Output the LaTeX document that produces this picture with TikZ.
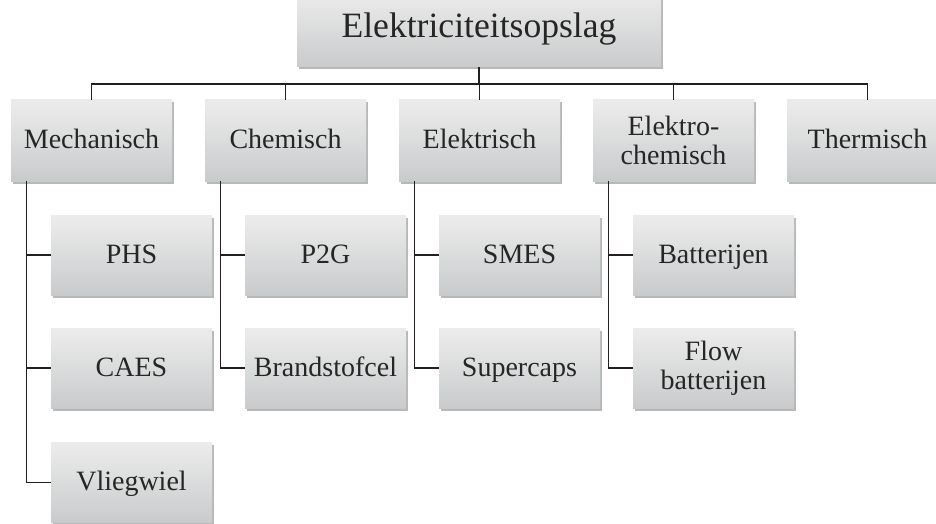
\documentclass[tikz,border=0pt]{standalone}
\usepackage{fontspec}
\setmainfont{Liberation Serif}
\usetikzlibrary{shadows}
\definecolor{txt}{RGB}{38,38,38}
\definecolor{ln}{RGB}{35,31,32}
\definecolor{sbA}{RGB}{180,184,186}
\definecolor{sbB}{RGB}{204,206,207}
\definecolor{sbC}{RGB}{233,233,233}
\definecolor{sbD}{RGB}{246,246,246}
\pgfdeclareverticalshading{boxshade}{100bp}{color(0bp)=(sbA); color(30bp)=(sbB); color(70bp)=(sbC); color(100bp)=(sbD)}
\begin{document}
\begin{tikzpicture}[x=1pt,y=-1pt,
  box/.style={shading=boxshade,
    drop shadow={shadow xshift=1.5pt,shadow yshift=-2.5pt,opacity=0.28,fill=black},
    minimum width=161pt, minimum height=80pt, inner sep=0pt,
    text=txt, font=\fontsize{28}{29}\selectfont, align=center},
  one/.style={text height=20pt, text depth=4pt},
  conn/.style={draw=ln, line width=1.2pt}]
\path[use as bounding box] (0,0) rectangle (936,524);
\clip (0,0) rectangle (936,524);
% top
\node[box, minimum width=364pt, minimum height=76pt, font=\fontsize{35.6}{36}\selectfont,
  text height=25pt, text depth=8pt] (top) at (479,29) {Elektriciteitsopslag};
% level 1
\node[box, one, minimum height=81pt] (mech) at (91.5,140.5) {Mechanisch};
\node[box, one, minimum height=81pt] (chem) at (285.5,140.5) {Chemisch};
\node[box, one, minimum height=81pt] (elek) at (479.5,140.5) {Elektrisch};
\node[box, minimum height=81pt] (elch) at (673.5,140.5) {Elektro-\\chemisch};
\node[box, one, minimum height=81pt] (therm) at (867.5,140.5) {Thermisch};
% children
\node[box, one] (phs) at (131.5,255) {PHS};
\node[box, one] (caes) at (131.5,368) {CAES};
\node[box, one] (vlieg) at (131.5,482.5) {Vliegwiel};
\node[box, one] (ptg) at (325.5,255) {P2G};
\node[box, one] (brand) at (325.5,368) {Brandstofcel};
\node[box, one] (smes) at (519.5,255) {SMES};
\node[box, one] (super) at (519.5,368) {Supercaps};
\node[box, one] (batt) at (713.5,255) {Batterijen};
\node[box] (flow) at (713.5,368) {Flow\\batterijen};
% connectors
\coordinate (bar) at (479,84);
\draw[conn] (top.south) -- (top.south |- bar);
\draw[conn] (mech.north) |- (bar) -| (therm.north);
\foreach \n in {chem,elek,elch} \draw[conn] (\n.north) -- (\n.north |- bar);
\foreach \p/\c in {mech/phs,mech/caes,mech/vlieg,chem/ptg,chem/brand,elek/smes,elek/super,elch/batt,elch/flow}
  \draw[conn] ([xshift=16pt]\p.south west) |- (\c.west);
\end{tikzpicture}
\end{document}
